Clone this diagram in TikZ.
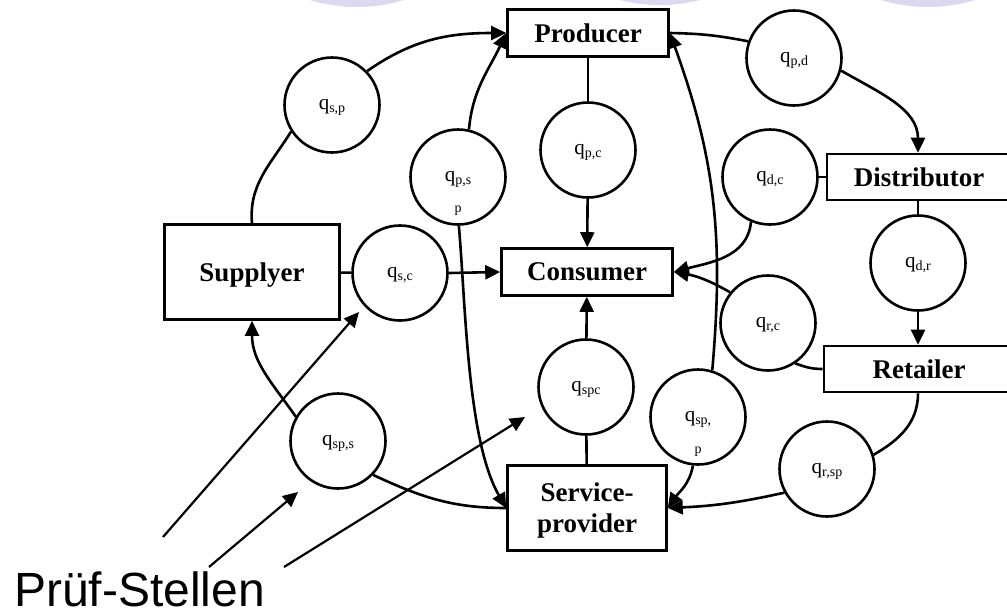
\documentclass[tikz,border=0pt]{standalone}
\usepackage{fontspec}
\setmainfont{Liberation Serif}
\newfontfamily\labelfont{Liberation Sans}
\usetikzlibrary{arrows.meta,positioning}
\definecolor{slideback}{RGB}{219,217,240}
\newcommand{\qlab}[1]{q\raisebox{-0.35ex}{\fontsize{14pt}{14pt}\selectfont #1}}

\begin{document}
\begin{tikzpicture}[x = 1pt, y = -1pt,
  actor/.style = {draw, line width = 2.6pt, shape = rectangle, inner sep = 0pt, align = center, text depth = 0pt, font = \fontsize{27pt}{31pt}\selectfont\bfseries},
  check/.style = {draw, line width = 2.6pt, shape = circle, minimum size = 95pt, inner sep = 0pt, text height = 9pt, text depth = 0pt, font = \fontsize{21pt}{24pt}\selectfont},
  sub/.style = {inner sep = 0pt, font = \fontsize{14pt}{14pt}\selectfont},
  link/.style = {line width = 2.6pt},
  flow/.style = {line width = 2.6pt, -{Triangle[length = 15pt, width = 14pt]}}]
\useasboundingbox (0,0) rectangle (1007,614);

\fill[slideback] (357,-153) circle[radius = 160];
\fill[slideback] (660,-155) circle[radius = 160];
\fill[slideback] (928,-153) circle[radius = 160];

\node[actor, minimum width = 161pt, minimum height = 47pt] (producer) at (588,33) {Producer};
\node[actor, minimum width = 171pt, minimum height = 47pt] (consumer) at (587,272) {Consumer};
\node[actor, minimum width = 175pt, minimum height = 95pt] (supplyer) at (252,272) {Supplyer};
\node[actor, minimum width = 196pt, minimum height = 46pt] (distributor) at (925,177) {Distributor\hspace{12pt}};
\node[actor, minimum width = 202pt, minimum height = 46pt] (retailer) at (925,369) {Retailer\hspace{12pt}};
\node[actor, minimum width = 159pt, minimum height = 85pt] (service) at (587,508) {Service-\\provider};

\node[check] (qsp) at (332,105) {\qlab{s,p}};
\node[check] (qpsp) at (458,177) {\qlab{p,s}};
\node[sub] (qpsp-p) at ([yshift = -34pt]qpsp.center) {p};
\node[check] (qpc) at (588,150) {\qlab{p,c}};
\node[check] (qpd) at (794,58) {\qlab{p,d}};
\node[check] (qdc) at (770,177) {\qlab{d,c}};
\node[check] (qdr) at (918,263) {\qlab{d,r}};
\node[check] (qsc) at (400,273) {\qlab{s,c}};
\node[check] (qrc) at (768,323) {\qlab{r,c}};
\node[check] (qspc) at (586,387) {\qlab{spc}};
\node[check] (qspp) at (698,417) {\qlab{sp,}};
\node[sub] (qspp-p) at ([yshift = -35pt]qspp.center) {p};
\node[check] (qsps) at (338,441) {\qlab{sp,s}};
\node[check] (qrsp) at (827,469) {\qlab{r,sp}};

\draw[link] (supplyer.north) to[out = 95, in = 238] (qsp.213);
\draw[flow] (qsp.44) to[out = 35, in = 180] (producer.west);
\draw[flow] (qpsp.77) to[out = 85, in = 245] (producer.west);
\draw[flow] (qpsp.271) to[out = -85, in = 120, looseness = 0.7] (service.west);
\draw[link] (producer) -- (qpc);
\draw[flow] (qpc) -- (consumer);
\draw[link] (producer.east) to[bend left = 5] (qpd.160);
\draw[flow] (qpd.-15) to[out = -30, in = 90] (distributor.north -| qdr);
\draw[link] (qdc) -- (qdc -| distributor.west);
\draw[flow] (qdc.247) to[out = 265, in = 15] (consumer.east);
\draw[flow] (qrc.141) to[bend right = 10] (consumer.east);
\draw[link] (distributor.south -| qdr) -- (qdr);
\draw[flow] (qdr) -- (retailer.north -| qdr);
\draw[link] (qrc.304) to[out = -20, in = 180] (retailer.west);
\draw[link] (retailer.south -| qdr) to[out = -90, in = 30] (qrsp.17);
\draw[flow] (qrsp.209) to[bend left = 5] (service.east);
\draw[flow] (qspp.264) to[out = 260, in = 55] (service.east);
\draw[flow] (qspp.73) to[out = 85, in = -70] (producer.east);
\draw[link] (service) -- (qspc);
\draw[flow] (qspc) -- (consumer);
\draw[link] (supplyer) -- (qsc);
\draw[flow] (qsc.east) -- (consumer.west);
\draw[flow] (qsps.150) to[out = 125, in = 270] (supplyer.south);
\draw[link] (qsps.316) to[out = -25, in = 180] (service.west);

\node[inner sep = 0pt, anchor = base west, text depth = 0pt, font = \labelfont\fontsize{48pt}{48pt}\selectfont] (pruef) at (14,606) {Prüf-Stellen};
\coordinate (pruef-a) at (163,537);
\coordinate (pruef-b) at (209,567);
\coordinate (pruef-c) at (284,567);
\coordinate (aim-a) at (359,312);
\coordinate (aim-b) at (298,492);
\coordinate (aim-c) at (525,417);
\draw[flow, line width = 2.2pt] (pruef-a) -- (aim-a);
\draw[flow, line width = 2.2pt] (pruef-b) -- (aim-b);
\draw[flow, line width = 2.2pt] (pruef-c) -- (aim-c);
\end{tikzpicture}
\end{document}
